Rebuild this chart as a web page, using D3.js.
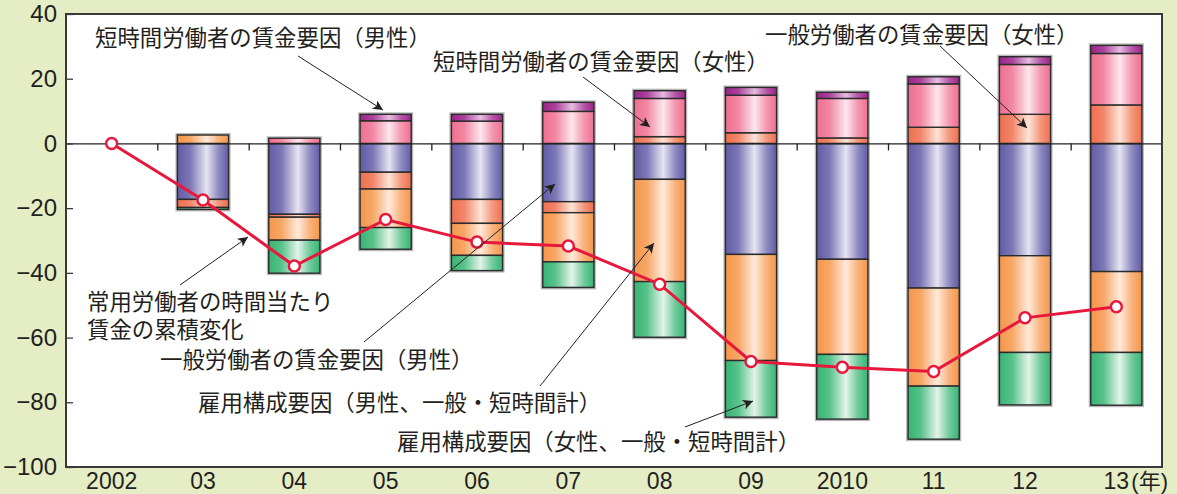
<!DOCTYPE html>
<html>
<head>
<meta charset="utf-8">
<script src="https://cdn.jsdelivr.net/npm/d3@7"></script>
<style>
  body { margin:0; background:#e5edc5; }
  svg { display:block; }
  .ytk text, .xlab text { font-family:"Liberation Sans", Arial, sans-serif; font-size:24px; fill:#231f20; }
  .xlab text { font-size:23px; }
  .note { font-family:"Noto Sans CJK JP", sans-serif; font-size:22.4px; fill:#231f20; }
</style>
</head>
<body>
<svg id="chart" width="1177" height="494"></svg>
<script>
// years on the x axis
var years = ["2002","03","04","05","06","07","08","09","2010","11","12","13"];
// 一般労働者の賃金要因（男性）
var genMale    = [0, -17.3, -21.9, -8.9, -17.3, -18.0, -11.1, -34.3, -35.8, -44.7, -34.7, -39.6];
// 一般労働者の賃金要因（女性）
var genFemale  = [0, -2.5, -0.9, -5.2, -7.4, -3.4, 2.1, 3.3, 1.7, 5.0, 9.0, 11.9];
// 雇用構成要因（男性、一般・短時間計）
var empMale    = [0, 2.6, -7.1, -11.9, -9.9, -15.2, -31.6, -32.8, -29.4, -30.3, -29.9, -25.0];
// 雇用構成要因（女性、一般・短時間計）
var empFemale  = [0, -0.6, -10.2, -6.7, -4.7, -7.9, -17.2, -17.5, -20.0, -16.4, -16.2, -16.3];
// 短時間労働者の賃金要因（女性）
var shortFemale = [0, 0, 1.6, 7.0, 6.9, 9.9, 11.8, 11.6, 12.2, 13.4, 15.4, 15.9];
// 短時間労働者の賃金要因（男性）
var shortMale  = [0, 0, 0, 2.0, 2.1, 2.8, 2.4, 2.4, 1.9, 2.2, 2.4, 2.5];
// 常用労働者の時間当たり賃金の累積変化
var cumulative = [0, -17.5, -37.9, -23.5, -30.5, -31.7, -43.5, -67.4, -69.2, -70.5, -53.9, -50.5];
var yTicks = [-100, -80, -60, -40, -20, 0, 20, 40];

var keys = ["genMale","genFemale","empMale","empFemale","shortFemale","shortMale"];
var colors = {
  genMale:    ["#615ca6", "#e6e4f2"],
  genFemale:  ["#ef6f4f", "#fde3d6"],
  empMale:    ["#f5964a", "#ffeadb"],
  empFemale:  ["#36b574", "#e2f4e8"],
  shortFemale:["#ef6f90", "#fde6ee"],
  shortMale:  ["#9c238a", "#e6bce0"]
};

var rows = years.map(function(y,i){
  return {year:y, genMale:genMale[i], genFemale:genFemale[i], empMale:empMale[i],
          empFemale:empFemale[i], shortFemale:shortFemale[i], shortMale:shortMale[i]};
});

var svg = d3.select("#chart");
var L = 66, R = 1162, T = 14, B = 467;

var x = d3.scaleBand().domain(years).range([L, R]);
var y = d3.scaleLinear().domain([-100, 40]).range([B, T]);
var bw = x.bandwidth()*0.56;

// gradients
var defs = svg.append("defs");
keys.forEach(function(k){
  var g = defs.append("linearGradient").attr("id","g_"+k).attr("x1","0%").attr("x2","100%");
  var c0 = colors[k][0], c1 = colors[k][1];
  g.append("stop").attr("offset","0%").attr("stop-color",c0);
  g.append("stop").attr("offset","25%").attr("stop-color",d3.interpolateRgb(c0,c1)(0.2));
  g.append("stop").attr("offset","57%").attr("stop-color",c1);
  g.append("stop").attr("offset","80%").attr("stop-color",d3.interpolateRgb(c0,c1)(0.35));
  g.append("stop").attr("offset","100%").attr("stop-color",c0);
});
defs.append("marker").attr("id","arr").attr("viewBox","0 0 10 10")
  .attr("refX",10).attr("refY",5).attr("markerWidth",14).attr("markerHeight",10)
  .attr("markerUnits","userSpaceOnUse").attr("orient","auto")
  .append("path").attr("d","M0,0 L10,5 L0,10 L2.5,5 Z").attr("fill","#231f20");

// plot area
svg.append("rect").attr("x",L).attr("y",T).attr("width",R-L).attr("height",B-T)
  .attr("fill","#fff");

var series = d3.stack().keys(keys).offset(d3.stackOffsetDiverging)(rows);

// bar halo
svg.append("g").selectAll("rect").data(rows.filter(function(d){return d.year!=="2002";}))
  .enter().append("rect")
  .attr("x",function(d){return x(d.year)+(x.bandwidth()-bw)/2-1;})
  .attr("width",bw+2)
  .attr("y",function(d){
    var top = d3.max(series, function(s){return s[years.indexOf(d.year)][1];});
    return y(top)-1;})
  .attr("height",function(d){
    var i = years.indexOf(d.year);
    var top = d3.max(series, function(s){return s[i][1];});
    var bot = d3.min(series, function(s){return s[i][0];});
    return y(bot)-y(top)+2;})
  .attr("fill","none").attr("stroke","#b8b8b8").attr("stroke-width",2);

svg.append("g").selectAll("g").data(series).enter().append("g")
  .attr("fill",function(s){return "url(#g_"+s.key+")";})
  .selectAll("rect")
  .data(function(s){return s.filter(function(d){return d[1]!==d[0];});})
  .enter().append("rect")
  .attr("x",function(d){return x(d.data.year)+(x.bandwidth()-bw)/2;})
  .attr("width",bw)
  .attr("y",function(d){return y(Math.max(d[0],d[1]));})
  .attr("height",function(d){return Math.abs(y(d[0])-y(d[1]));})
  .attr("stroke","#2b2b2b").attr("stroke-width",1.4);

// zero line with ticks at band boundaries
var xb = d3.scaleLinear().domain([0,12]).range([L,R]);
var zero = svg.append("g").attr("transform","translate(0,"+y(0)+")")
  .call(d3.axisBottom(xb).tickValues(d3.range(1,12)).tickSize(7).tickSizeOuter(0).tickFormat(""));
zero.select(".domain").attr("stroke","#231f20").attr("stroke-width",1.3);
zero.selectAll(".tick line").attr("stroke","#231f20").attr("stroke-width",1.3);

// frame
svg.append("rect").attr("x",L).attr("y",T).attr("width",R-L).attr("height",B-T)
  .attr("fill","none").attr("stroke","#3a3a3a").attr("stroke-width",2);

// y axis
var ya = svg.append("g").attr("class","ytk").attr("transform","translate("+L+",0)")
  .call(d3.axisLeft(y).tickValues(yTicks).tickSize(-7).tickPadding(9).tickFormat(d3.format("d")));
ya.select(".domain").remove();
ya.selectAll(".tick line").attr("stroke","#3a3a3a").attr("stroke-width",1.3);
ya.selectAll("text").attr("font-family",null).attr("font-size",null).attr("fill",null);

// x labels
var xa = svg.append("g").attr("class","xlab").attr("transform","translate(0,"+B+")")
  .call(d3.axisBottom(x).tickSize(0).tickPadding(0));
xa.select(".domain").remove();
xa.selectAll("text").attr("font-family",null).attr("font-size",null).attr("fill",null)
  .attr("dy",null).attr("y",22);
var unit = svg.append("text").attr("x",x("13")+x.bandwidth()/2+15).attr("y",489)
  .attr("fill","#231f20").style("font-size","22px");
unit.append("tspan").style("font-family","Liberation Sans").text("(");
unit.append("tspan").style("font-family","Noto Sans CJK JP").text("年");
unit.append("tspan").style("font-family","Liberation Sans").text(")");

// cumulative line
var line = d3.line().x(function(d,i){return x(years[i])+x.bandwidth()/2;}).y(function(d){return y(d);});
svg.append("path").datum(cumulative).attr("d",line)
  .attr("fill","none").attr("stroke","#e8173c").attr("stroke-width",3);
svg.append("g").selectAll("circle").data(cumulative).enter().append("circle")
  .attr("cx",function(d,i){return x(years[i])+x.bandwidth()/2;})
  .attr("cy",function(d){return y(d);})
  .attr("r",5.5).attr("fill","#fff").attr("stroke","#e8173c").attr("stroke-width",2.5);

// annotations
var notes = [
  {lines:["短時間労働者の賃金要因（男性）"], x:95, y:46, from:[298,56], to:[383,110]},
  {lines:["短時間労働者の賃金要因（女性）"], x:433, y:70, from:[583,77], to:[650,127]},
  {lines:["一般労働者の賃金要因（女性）"], x:765, y:43, from:[940,46], to:[1027,128]},
  {lines:["常用労働者の時間当たり","賃金の累積変化"], x:87, y:310, from:[180,285], to:[248,237]},
  {lines:["一般労働者の賃金要因（男性）"], x:160, y:368, from:[364,342], to:[555,184]},
  {lines:["雇用構成要因（男性、一般・短時間計）"], x:198, y:411, from:[540,386], to:[654,243]},
  {lines:["雇用構成要因（女性、一般・短時間計）"], x:397, y:450, from:[685,427], to:[753,401]}
];
var ng = svg.append("g");
notes.forEach(function(n){
  n.lines.forEach(function(s,j){
    ng.append("text").attr("class","note").attr("x",n.x).attr("y",n.y+j*28).text(s);
  });
  ng.append("line").attr("x1",n.from[0]).attr("y1",n.from[1]).attr("x2",n.to[0]).attr("y2",n.to[1])
    .attr("stroke","#231f20").attr("stroke-width",1).attr("marker-end","url(#arr)");
});
</script>
</body>
</html>
